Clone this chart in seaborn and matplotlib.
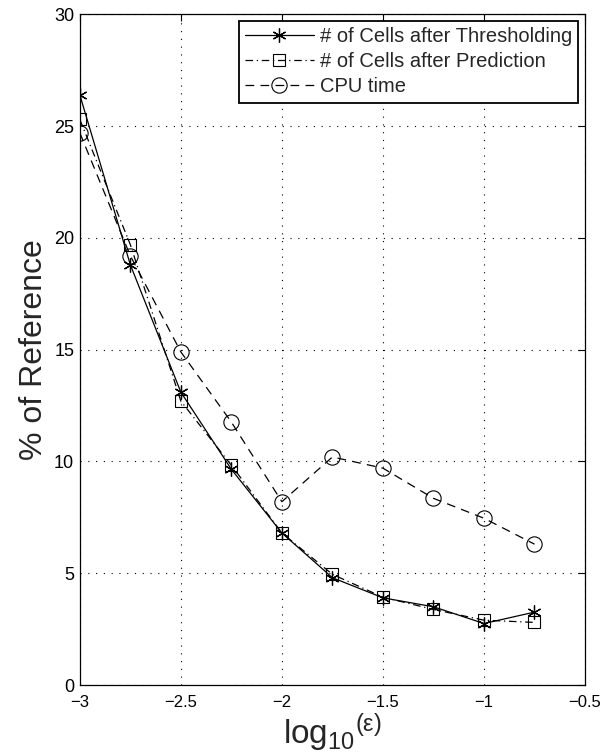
import matplotlib
matplotlib.use("Agg")
import matplotlib.pyplot as plt
import seaborn as sns
import pandas as pd

log_eps = [-3.0, -2.75, -2.5, -2.25, -2.0, -1.75, -1.5, -1.25, -1.0, -0.75]
cells_thresh = [26.4, 18.8, 13.1, 9.65, 6.8, 4.8, 3.9, 3.5, 2.75, 3.26]
cells_pred = [25.3, 19.7, 12.7, 9.83, 6.8, 4.95, 3.93, 3.38, 2.9, 2.8]
cpu_time = [24.7, 19.2, 14.9, 11.76, 8.2, 10.2, 9.7, 8.35, 7.46, 6.3]

labels = ["# of Cells after Thresholding", "# of Cells after Prediction", "CPU time"]

sns.set_style("white")
plt.rcParams['font.family'] = ['Liberation Sans', 'DejaVu Sans']
plt.rcParams['mathtext.fontset'] = 'custom'
plt.rcParams['mathtext.rm'] = 'Liberation Sans'
plt.rcParams['mathtext.it'] = 'Liberation Sans'

fig = plt.figure(figsize=(6, 7.54), dpi=100)
ax = fig.add_axes([0.133, 0.0915, 0.842, 0.8895])

df = pd.DataFrame({"x": log_eps, "t": cells_thresh, "p": cells_pred, "c": cpu_time})

sns.lineplot(data=df, x="x", y="t", ax=ax, color="black", linestyle="-", linewidth=0.9,
             marker=(6, 2, 0), markersize=10, markeredgewidth=0.9, markerfacecolor="black",
             markeredgecolor="black", label=labels[0])
sns.lineplot(data=df, x="x", y="p", ax=ax, color="black", linewidth=0.9,
             marker="s", markersize=9, markeredgewidth=0.8, markerfacecolor="none",
             markeredgecolor="black", label=labels[1], dashes=(6, 3, 1, 3))
sns.lineplot(data=df, x="x", y="c", ax=ax, color="black", linewidth=0.9,
             marker="o", markersize=11, markeredgewidth=0.8, markerfacecolor="none",
             markeredgecolor="black", label=labels[2], dashes=(7, 5))

ax.set_xlim(-3, -0.5)
ax.set_ylim(0, 30)
ax.set_xticks([-3, -2.5, -2, -1.5, -1, -0.5])
ax.set_xticklabels(["\u22123", "\u22122.5", "\u22122", "\u22121.5", "\u22121", "\u22120.5"])
ax.set_yticks([0, 5, 10, 15, 20, 25, 30])
ax.tick_params(direction="in", length=5, width=0.8, labelsize=13, top=True, right=True,
               colors="black")
ax.tick_params(axis="x", pad=7, labelsize=12)
ax.tick_params(axis="y", pad=4)
ax.grid(True, linestyle=(0, (1, 6)), color="black", linewidth=0.8)
for s in ax.spines.values():
    s.set_color("black")
    s.set_linewidth(0.9)

ax.set_xlabel(r"log$_{10}$$^{(\epsilon)}$", fontsize=24, labelpad=1)
ax.set_ylabel("% of Reference", fontsize=23, labelpad=4)

leg = ax.legend(loc="upper right", fontsize=14.5, frameon=True, fancybox=False,
                edgecolor="black", framealpha=1, borderpad=0.3, labelspacing=0.3,
                handlelength=3.4, handletextpad=0.3, borderaxespad=0.35)
leg.get_frame().set_linewidth(1.3)

fig.savefig("out.png", dpi=100)
